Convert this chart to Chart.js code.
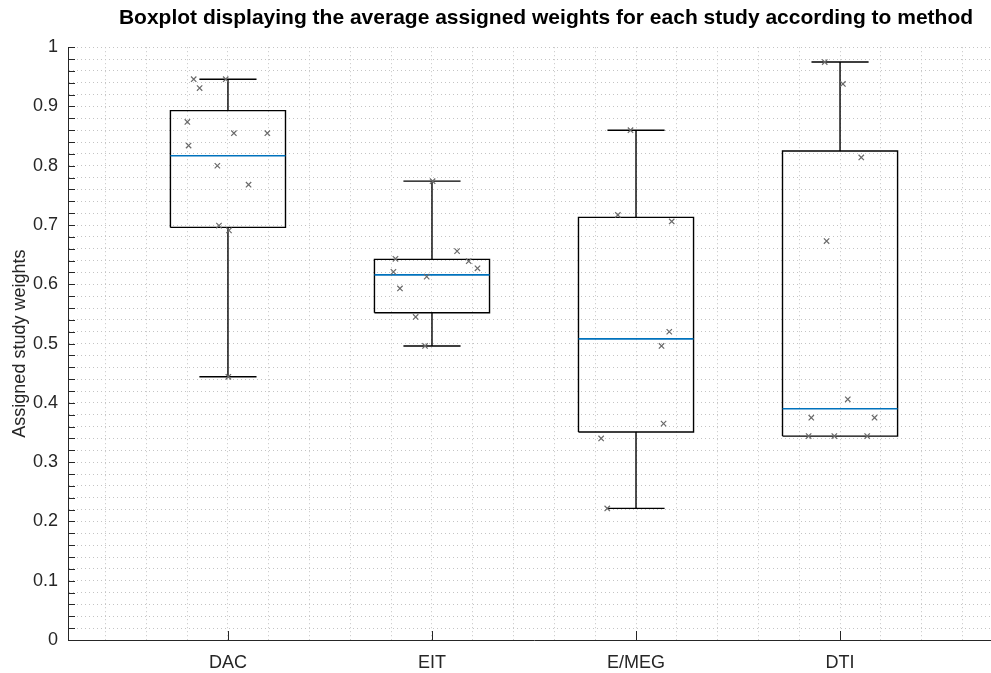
<!DOCTYPE html>
<html>
<head>
<meta charset="utf-8">
<title>Assigned study weights by method</title>
<script src="https://cdn.jsdelivr.net/npm/chart.js@4.4.0/dist/chart.umd.min.js"></script>
<style>
  html, body { margin: 0; padding: 0; background: #fff; overflow: hidden; }
  #wrap { width: 991px; height: 673px; overflow: hidden; }
</style>
</head>
<body>
<div id="wrap"><canvas id="chart" width="1092" height="673"></canvas></div>
<script>
// methods, placed at x = 1..4
var methods = ['DAC', 'EIT', 'E/MEG', 'DTI'];

// box statistics per method
var whiskerLow  = [0.444, 0.496, 0.222, 0.344];
var quartile1   = [0.696, 0.552, 0.351, 0.344];
var medians     = [0.817, 0.616, 0.508, 0.390];
var quartile3   = [0.893, 0.642, 0.713, 0.825];
var whiskerHigh = [0.946, 0.774, 0.860, 0.975];

// average weight per study, with the jittered x it is plotted at
var dacX = [0.832, 0.989, 0.861, 0.801, 1.029, 1.193, 0.807, 0.948, 1.101, 0.956, 1.005, 1.002];
var dacY = [0.946, 0.946, 0.931, 0.874, 0.855, 0.855, 0.834, 0.800, 0.768, 0.699, 0.691, 0.444];
var eitX = [2.003, 2.123, 1.821, 2.180, 2.223, 1.811, 1.974, 1.843, 1.920, 1.966];
var eitY = [0.774, 0.656, 0.643, 0.639, 0.627, 0.621, 0.613, 0.593, 0.545, 0.496];
var megX = [2.973, 2.911, 3.175, 3.163, 3.125, 3.135, 2.829, 2.859];
var megY = [0.860, 0.717, 0.706, 0.520, 0.496, 0.365, 0.340, 0.222];
var dtiX = [3.925, 4.014, 4.104, 3.934, 4.038, 3.859, 4.169, 3.846, 3.972, 4.133];
var dtiY = [0.975, 0.938, 0.814, 0.673, 0.406, 0.375, 0.375, 0.344, 0.344, 0.344];

// labelled y ticks
var yTicks = [0, 0.1, 0.2, 0.3, 0.4, 0.5, 0.6, 0.7, 0.8, 0.9, 1];

var BOX_HALF = 0.282;
var CAP_HALF = 0.14;
var AXIS_COLOR = '#262626';

Chart.defaults.font.family = '"Liberation Sans", Arial, Helvetica, sans-serif';
Chart.defaults.color = AXIS_COLOR;

function gap(c) { return { x: c, y: null }; }

function boxLines() {
  var pts = [];
  methods.forEach(function (m, i) {
    var c = i + 1, l = c - BOX_HALF, r = c + BOX_HALF;
    pts.push(
      { x: l, y: quartile1[i] }, { x: r, y: quartile1[i] },
      { x: r, y: quartile3[i] }, { x: l, y: quartile3[i] },
      { x: l, y: quartile1[i] }, gap(c),
      { x: c, y: quartile3[i] }, { x: c, y: whiskerHigh[i] }, gap(c),
      { x: c - CAP_HALF, y: whiskerHigh[i] }, { x: c + CAP_HALF, y: whiskerHigh[i] }, gap(c),
      { x: c, y: quartile1[i] }, { x: c, y: whiskerLow[i] }, gap(c),
      { x: c - CAP_HALF, y: whiskerLow[i] }, { x: c + CAP_HALF, y: whiskerLow[i] }, gap(c)
    );
  });
  return pts;
}

function medianLines() {
  var pts = [];
  medians.forEach(function (v, i) {
    var c = i + 1;
    pts.push({ x: c - BOX_HALF, y: v }, { x: c + BOX_HALF, y: v }, gap(c));
  });
  return pts;
}

function studyPoints() {
  var pts = [];
  [[dacX, dacY], [eitX, eitY], [megX, megY], [dtiX, dtiY]].forEach(function (s) {
    s[0].forEach(function (x, k) { pts.push({ x: x, y: s[1][k] }); });
  });
  return pts;
}

// tick marks drawn inside the axes
var innerTicks = {
  id: 'innerTicks',
  afterDraw: function (chart) {
    var ctx = chart.ctx, xs = chart.scales.x, ys = chart.scales.y, a = chart.chartArea;
    ctx.save();
    ctx.strokeStyle = AXIS_COLOR;
    ctx.lineWidth = 1;
    ctx.beginPath();
    ys.ticks.forEach(function (t) {
      var py = Math.round(ys.getPixelForValue(t.value)) + 0.5;
      ctx.moveTo(a.left, py);
      ctx.lineTo(a.left + 7, py);
    });
    methods.forEach(function (m, i) {
      var px = Math.round(xs.getPixelForValue(i + 1)) + 0.5;
      ctx.moveTo(px, a.bottom);
      ctx.lineTo(px, a.bottom - 9);
    });
    ctx.stroke();
    ctx.restore();
  }
};

new Chart(document.getElementById('chart'), {
  type: 'scatter',
  data: {
    datasets: [{
      label: 'studies',
      data: studyPoints(),
      order: 0,
      showLine: false,
      pointStyle: 'crossRot',
      pointRadius: 3.8,
      pointBorderWidth: 1.2,
      pointBorderColor: '#6a6a6a',
      pointBackgroundColor: '#6a6a6a'
    }, {
      label: 'median',
      data: medianLines(),
      order: 1,
      showLine: true,
      spanGaps: false,
      pointRadius: 0,
      borderColor: '#0072BD',
      borderWidth: 1.6
    }, {
      label: 'box',
      data: boxLines(),
      order: 2,
      showLine: true,
      spanGaps: false,
      pointRadius: 0,
      borderColor: '#000000',
      borderWidth: 1.4
    }]
  },
  options: {
    responsive: false,
    animation: false,
    layout: { padding: 0 },
    plugins: {
      legend: { display: false },
      tooltip: { enabled: false },
      title: {
        display: true,
        text: 'Boxplot displaying the average assigned weights for each study according to method',
        color: '#000000',
        font: { size: 21, weight: 'bold' },
        padding: { top: 6, bottom: 16 }
      }
    },
    scales: {
      x: {
        type: 'linear',
        min: 0.216,
        max: 4.784,
        afterBuildTicks: function (scale) {
          var t = [];
          for (var k = 2; k <= 23; k++) t.push({ value: Math.round(k * 2) / 10 });
          scale.ticks = t;
        },
        afterFit: function (scale) { scale.height = 33; },
        ticks: {
          autoSkip: false,
          maxRotation: 0,
          padding: 12,
          font: { size: 18 },
          callback: function (v) {
            return Number.isInteger(v) && v >= 1 && v <= methods.length ? methods[v - 1] : '';
          }
        },
        grid: { color: '#c4c4c4', lineWidth: 1, drawTicks: false },
        border: { color: AXIS_COLOR, width: 1, dash: [1, 3] }
      },
      y: {
        min: 0,
        max: 1,
        afterBuildTicks: function (scale) {
          var t = [];
          for (var k = 0; k <= 50; k++) t.push({ value: k / 50 });
          scale.ticks = t;
        },
        afterFit: function (scale) { scale.width = 68; },
        ticks: {
          autoSkip: false,
          padding: 10,
          font: { size: 18 },
          callback: function (v) {
            for (var i = 0; i < yTicks.length; i++) {
              if (Math.abs(yTicks[i] - v) < 1e-6) return String(yTicks[i]);
            }
            return '';
          }
        },
        grid: { color: '#c4c4c4', lineWidth: 1, drawTicks: false },
        border: { color: AXIS_COLOR, width: 1, dash: [1, 3] },
        title: {
          display: true,
          text: 'Assigned study weights',
          font: { size: 18 },
          padding: { top: 9, bottom: 0 }
        }
      },
      // empty right-hand strip: the axes run on past the visible edge
      yRight: {
        position: 'right',
        min: 0,
        max: 1,
        afterFit: function (scale) { scale.width = 92; },
        grid: { drawOnChartArea: false, drawTicks: false },
        border: { display: false },
        ticks: { display: false }
      }
    }
  },
  plugins: [innerTicks]
});
</script>
</body>
</html>
